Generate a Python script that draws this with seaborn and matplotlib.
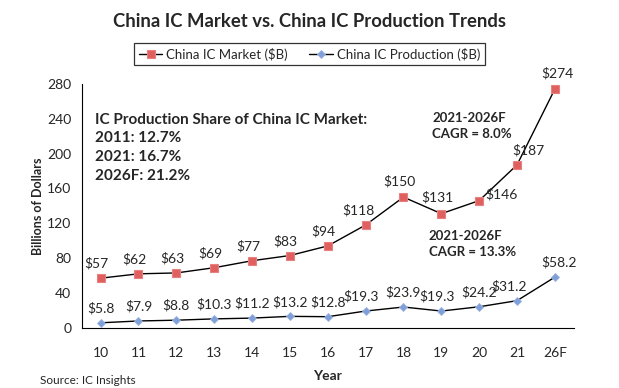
import matplotlib
matplotlib.use("Agg")
import matplotlib.pyplot as plt
import seaborn as sns
import numpy as np
import pandas as pd

# data
years = ['10', '11', '12', '13', '14', '15', '16', '17', '18', '19', '20', '21', '26F']
market = [57, 62, 63, 69, 77, 83, 94, 118, 150, 131, 146, 187, 274]
production = [5.8, 7.9, 8.8, 10.3, 11.2, 13.2, 12.8, 19.3, 23.9, 19.3, 24.2, 31.2, 58.2]
market_labels = ['$57', '$62', '$63', '$69', '$77', '$83', '$94', '$118', '$150', '$131', '$146', '$187', '$274']
prod_labels = ['$5.8', '$7.9', '$8.8', '$10.3', '$11.2', '$13.2', '$12.8', '$19.3', '$23.9', '$19.3', '$24.2', '$31.2', '$58.2']

sns.set_style("white")
plt.rcParams['font.family'] = ['Lato', 'DejaVu Sans']

df = pd.DataFrame({'idx': np.arange(len(years)), 'market': market, 'production': production})

fig = plt.figure(figsize=(6.19, 3.88), dpi=100)
ax = fig.add_axes([0.132, 0.155, 0.795, 0.629])

# lines
sns.lineplot(data=df, x='idx', y='market', ax=ax, color='black', linewidth=1.0,
             marker='s', markersize=6, markerfacecolor='#e06060', markeredgecolor='#e88080',
             markeredgewidth=0.8, label='China IC Market ($B)')
sns.lineplot(data=df, x='idx', y='production', ax=ax, color='black', linewidth=1.0,
             marker='D', markersize=4.5, markerfacecolor='#7f9fd8', markeredgecolor='#9ab2e0',
             markeredgewidth=0.6, label='China IC Production ($B)')

# data labels
mk_off = [(-3, 6)] * 7 + [(-5, 6), (-3, 7), (-3, 7), (16, 0), (8, 6), (2, 7)]
for i, (v, t) in enumerate(zip(market, market_labels)):
    dx, dy = mk_off[i]
    ax.annotate(t, (i, v), xytext=(dx, dy), textcoords='offset points',
                ha='center', va='bottom', fontsize=10)
pr_off = [(0, 6)] * 7 + [(-3, 6), (0, 6), (-3, 6), (0, 6), (-6, 6), (3, 6)]
for i, (v, t) in enumerate(zip(production, prod_labels)):
    dx, dy = pr_off[i]
    ax.annotate(t, (i, v), xytext=(dx, dy), textcoords='offset points',
                ha='center', va='bottom', fontsize=10)

# axes
ax.set_xlim(-0.5, len(years) - 0.5)
ax.set_ylim(0, 280)
ax.set_yticks(range(0, 281, 40))
ax.set_xticks(np.arange(len(years)))
ax.set_xticklabels(years)
ax.set_xticks(np.arange(-0.5, len(years)), minor=True)
ax.tick_params(axis='x', which='major', length=0, pad=14, labelsize=10)
ax.tick_params(axis='x', which='minor', length=4, direction='out', width=0.8)
ax.tick_params(axis='y', length=4, direction='out', width=0.8, labelsize=10)
for s in ['top', 'right']:
    ax.spines[s].set_visible(False)
for s in ['left', 'bottom']:
    ax.spines[s].set_color('black')
    ax.spines[s].set_linewidth(0.8)
ax.set_xlabel('Year', fontsize=10, fontweight='bold', labelpad=8)
ax.set_ylabel('Billions of Dollars', fontsize=9, fontweight='bold', labelpad=2)

# legend
ax.legend(loc='center', bbox_to_anchor=(0.5, 0.86), bbox_transform=fig.transFigure,
          ncol=2, frameon=True, fancybox=False, edgecolor='black', fontsize=9.5,
          handlelength=1.8, columnspacing=1.6, handletextpad=0.3, borderpad=0.35)
ax.get_legend().get_frame().set_linewidth(0.9)

# text
fig.text(0.5, 0.945, 'China IC Market vs. China IC Production Trends',
         ha='center', va='center', fontsize=13.3, fontweight='bold')
fig.text(0.153, 0.71, 'IC Production Share of China IC Market:\n2011: 12.7%\n2021: 16.7%\n2026F: 21.2%',
         ha='left', va='top', fontsize=11, fontweight='bold', linespacing=1.45)
fig.text(0.698, 0.675, '2021-2026F\nCAGR = 8.0%', ha='left', va='center',
         fontsize=9.5, fontweight='bold', linespacing=1.4)
fig.text(0.693, 0.37, '2021-2026F\nCAGR = 13.3%', ha='left', va='center',
         fontsize=9.5, fontweight='bold', linespacing=1.4)
fig.text(0.065, 0.02, 'Source: IC Insights', ha='left', va='center', fontsize=8.5)

fig.savefig('out.png', dpi=100)
